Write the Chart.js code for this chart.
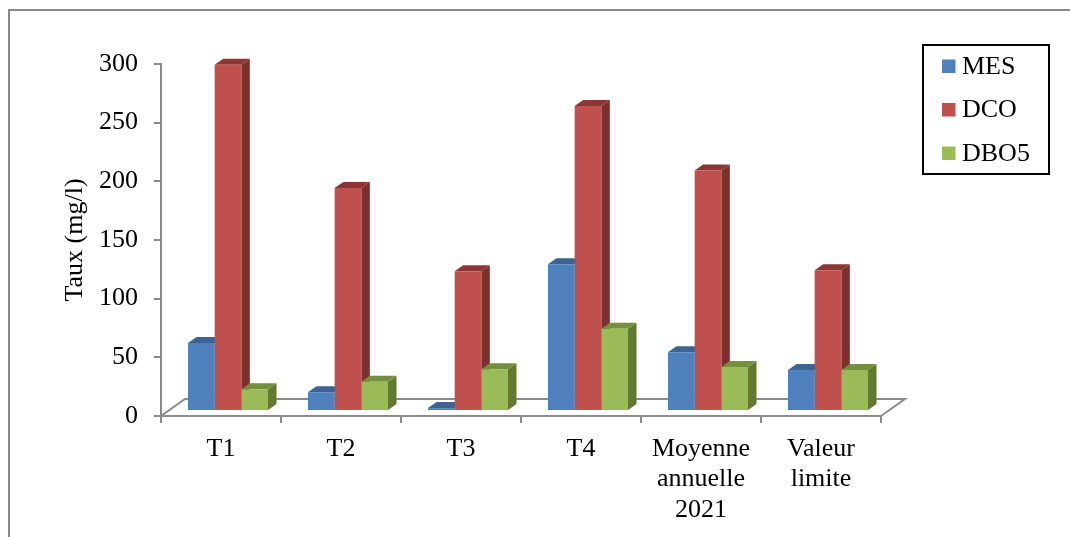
<!DOCTYPE html>
<html>
<head>
<meta charset="utf-8">
<script src="https://cdn.jsdelivr.net/npm/chart.js@4.4.1/dist/chart.umd.min.js"></script>
<style>
  html, body { margin: 0; padding: 0; background: #ffffff; }
  canvas { display: block; }
</style>
</head>
<body>
<canvas id="chart" width="1070" height="537"></canvas>
<script>
// Sampling points and measured concentrations (mg/l)
const categories = ['T1', 'T2', 'T3', 'T4', ['Moyenne', 'annuelle', '2021'], ['Valeur', 'limite']];
const mesValues  = [58, 16, 2.5, 125, 50, 35];
const dcoValues  = [295, 190, 119, 260, 205, 120];
const dbo5Values = [18.5, 25, 35.5, 70, 37.5, 35];
const yTickValues = [0, 50, 100, 150, 200, 250, 300];
const seriesNames = ['MES', 'DCO', 'DBO5'];
const axisTitle = 'Taux (mg/l)';

// Face colours for the pseudo-3D columns
const faceColors = [
  { front: '#4F81BD', top: '#3B6493', side: '#35587F' },
  { front: '#C0504D', top: '#8A3634', side: '#7C302E' },
  { front: '#9BBB59', top: '#74903D', side: '#627932' }
];

const serif = "'Liberation Serif', 'Times New Roman', serif";
const axisGray = '#8a8a8a';
const fontSize = 26;

// Oblique projection: columns sit a little behind the front edge of the floor
const barShift = { x: 7, y: -5 };      // front plane of the columns
const barDepth = { x: 8.5, y: -6 };    // column thickness
const floorDepth = { x: 24, y: -17 };  // full floor depth

const threeD = {
  id: 'threeD',
  beforeDraw(chart) {
    const ctx = chart.ctx;
    ctx.save();
    ctx.fillStyle = '#ffffff';
    ctx.fillRect(0, 0, chart.width, chart.height);
    // frame around the drawing
    ctx.strokeStyle = '#898989';
    ctx.lineWidth = 2;
    ctx.beginPath();
    ctx.moveTo(9, chart.height);
    ctx.lineTo(9, 10);
    ctx.lineTo(chart.width, 10);
    ctx.stroke();
    ctx.restore();
  },
  beforeDatasetsDraw(chart) {
    const ctx = chart.ctx;
    const a = chart.chartArea;
    // floor outline
    ctx.save();
    ctx.strokeStyle = axisGray;
    ctx.lineWidth = 2;
    ctx.beginPath();
    ctx.moveTo(a.left, a.bottom);
    ctx.lineTo(a.left + floorDepth.x, a.bottom + floorDepth.y);
    ctx.lineTo(a.right + floorDepth.x, a.bottom + floorDepth.y);
    ctx.lineTo(a.right, a.bottom);
    ctx.stroke();
    ctx.restore();

    // move into the column plane; the library then draws the front faces here
    ctx.save();
    ctx.translate(barShift.x, barShift.y);
    chart.data.datasets.forEach((ds, i) => {
      const meta = chart.getDatasetMeta(i);
      const col = faceColors[i];
      meta.data.forEach(el => {
        const l = el.x - el.width / 2;
        const r = el.x + el.width / 2;
        const t = el.y;
        const b = el.base;
        // side face
        ctx.fillStyle = col.side;
        ctx.beginPath();
        ctx.moveTo(r, t);
        ctx.lineTo(r + barDepth.x, t + barDepth.y);
        ctx.lineTo(r + barDepth.x, b + barDepth.y);
        ctx.lineTo(r, b);
        ctx.closePath();
        ctx.fill();
        // top face
        ctx.fillStyle = col.top;
        ctx.beginPath();
        ctx.moveTo(l, t);
        ctx.lineTo(l + barDepth.x, t + barDepth.y);
        ctx.lineTo(r + barDepth.x, t + barDepth.y);
        ctx.lineTo(r, t);
        ctx.closePath();
        ctx.fill();
      });
    });
  },
  afterDatasetsDraw(chart) {
    chart.ctx.restore();
  },
  afterDraw(chart) {
    // boxed legend
    const ctx = chart.ctx;
    ctx.save();
    ctx.strokeStyle = '#000000';
    ctx.lineWidth = 2;
    ctx.strokeRect(923, 45, 126, 129);
    ctx.font = fontSize + 'px ' + serif;
    ctx.textBaseline = 'middle';
    ctx.textAlign = 'left';
    chart.data.datasets.forEach((ds, i) => {
      const cy = 66 + i * 43.5;
      ctx.fillStyle = ds.backgroundColor;
      ctx.fillRect(942, cy - 6.5, 13.5, 13.5);
      ctx.fillStyle = '#000000';
      ctx.fillText(ds.label, 962, cy + 1);
    });
    ctx.restore();
  }
};

const seriesValues = [mesValues, dcoValues, dbo5Values];

new Chart(document.getElementById('chart'), {
  type: 'bar',
  data: {
    labels: categories,
    datasets: seriesNames.map((name, i) => ({
      label: name,
      data: seriesValues[i],
      backgroundColor: faceColors[i].front,
      borderWidth: 0,
      categoryPercentage: 80 / 120,
      barPercentage: 1,
      clip: false
    }))
  },
  options: {
    responsive: false,
    animation: false,
    devicePixelRatio: 1,
    layout: { padding: { left: 0, top: 64, right: 189, bottom: 0 } },
    plugins: { legend: { display: false }, tooltip: { enabled: false } },
    scales: {
      x: {
        offset: true,
        grid: { display: true, drawOnChartArea: false, drawTicks: true, tickLength: 7, color: axisGray, lineWidth: 2, offset: true },
        border: { display: true, color: axisGray, width: 2 },
        ticks: { font: { family: serif, size: fontSize, lineHeight: 1.17 }, color: '#000000', padding: 11, maxRotation: 0, autoSkip: false },
        afterFit(scale) { scale.height = 121; }
      },
      y: {
        min: 0,
        max: 300,
        afterBuildTicks(scale) { scale.ticks = yTickValues.map(v => ({ value: v })); },
        grid: { display: true, drawOnChartArea: false, drawTicks: true, tickLength: 7, color: axisGray, lineWidth: 2 },
        border: { display: true, color: axisGray, width: 2 },
        ticks: { font: { family: serif, size: fontSize }, color: '#000000', padding: 16 },
        title: { display: true, text: axisTitle, color: '#000000', font: { family: serif, size: fontSize }, padding: { top: 60, bottom: 0 } },
        afterFit(scale) { scale.width = 161; }
      }
    }
  },
  plugins: [threeD]
});
</script>
</body>
</html>
